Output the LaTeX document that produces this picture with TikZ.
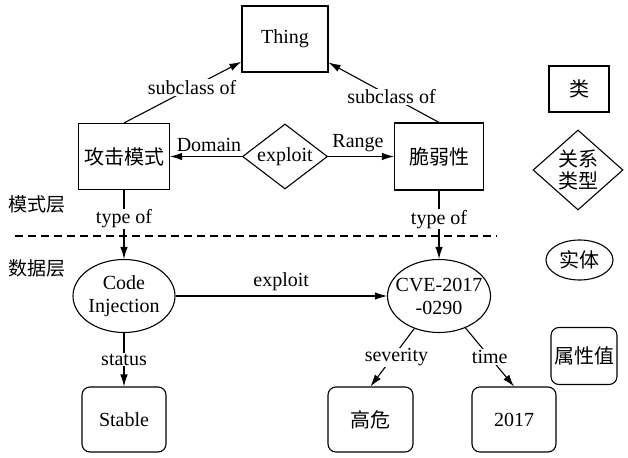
\documentclass[tikz,border=0pt]{standalone}
\usepackage{fontspec}
\setmainfont{Liberation Serif}
\newfontfamily\cjk{Noto Sans CJK SC}
\usetikzlibrary{shapes.geometric,arrows.meta}
\begin{document}
\begin{tikzpicture}[x=1pt,y=-1pt,
  txt/.style={font=\fontsize{20}{23}\selectfont},
  base/.style={txt,draw,line width=1.1pt,inner sep=0pt,align=center},
  clsbox/.style={base,rectangle},
  attrbox/.style={base,rectangle,rounded corners=8pt},
  relshape/.style={base,diamond},
  entshape/.style={base,ellipse},
  lbl/.style={txt,fill=white,inner sep=1pt},
  arr/.style={-{Latex[length=12pt,width=7.5pt]},line width=1.1pt},
  ln/.style={line width=1.1pt}
]
\useasboundingbox (0,0) rectangle (628,457);

% schema layer
\node[clsbox,minimum width=86pt,minimum height=66pt] (thing) at (285,39) {Thing};
\node[clsbox,minimum width=91pt,minimum height=66pt] (atk) at (124,156.5) {\cjk 攻击模式};
\node[clsbox,minimum width=89pt,minimum height=67pt] (vul) at (439,156.5) {\cjk 脆弱性};
\node[relshape,aspect=1.3,minimum width=85pt,minimum height=65pt] (ex) at (285,156.5) {exploit};

% data layer
\node[entshape,inner xsep=-6pt,inner ysep=0pt,minimum width=102pt,minimum height=73pt] (ci) at (124,296) {Code\\Injection};
\node[entshape,inner xsep=-9pt,inner ysep=0pt,minimum width=103pt,minimum height=73pt] (cve) at (439,296) {CVE-2017\\-0290};
\node[attrbox,minimum width=84pt,minimum height=65pt] (stable) at (124,419.5) {Stable};
\node[attrbox,minimum width=85pt,minimum height=65pt] (high) at (370.5,419.5) {\cjk 高危};
\node[attrbox,minimum width=84pt,minimum height=65pt] (year) at (514,419.5) {2017};

% layer labels and divider
\node[txt,font=\fontsize{19}{22}\selectfont\cjk] (schemalbl) at (37,204) {模式层};
\node[txt,font=\fontsize{19}{22}\selectfont\cjk] (datalbl) at (37,268) {数据层};
\coordinate (dl) at (15,236);
\coordinate (dr) at (497,236);
\draw[ln,dash pattern=on 8pt off 5pt] (dl) -- (dr);

% legend
\node[clsbox,minimum width=60pt,minimum height=46pt] (lgcls) at (579,89) {\cjk 类};
\node[relshape,aspect=1.125,minimum width=90pt,minimum height=80pt,font=\fontsize{20}{22}\selectfont\cjk] (lgrel) at (578,170) {关系\\类型};
\node[entshape,minimum width=67pt,minimum height=40pt] (lgent) at (579.5,260) {\cjk 实体};
\node[attrbox,minimum width=66pt,minimum height=57pt] (lgattr) at (584,356) {\cjk 属性值};

% connectors
\draw[arr] (atk.north) -- (thing) node[lbl,pos=0.58] {subclass of};
\draw[arr] (vul.north) -- (thing) node[lbl,pos=0.43] {subclass of};
\draw[arr] (ex) -- (atk) node[txt,midway,above=1pt,xshift=3pt] {Domain};
\draw[arr] (ex) -- (vul) node[txt,midway,above=1pt,xshift=-3pt] {Range};
\draw[arr] (atk) -- (ci) node[lbl,pos=0.42] {type of};
\draw[arr] (vul) -- (cve) node[lbl,pos=0.42] {type of};
\draw[arr] (ci) -- (cve) node[txt,midway,above=1pt] {exploit};
\draw[arr] (ci) -- (stable) node[lbl,midway] {status};
\draw[arr] (cve) -- (high.north) node[lbl,pos=0.5,xshift=4pt] {severity};
\draw[arr] (cve) -- (year.north) node[lbl,pos=0.5] {time};
\end{tikzpicture}
\end{document}
